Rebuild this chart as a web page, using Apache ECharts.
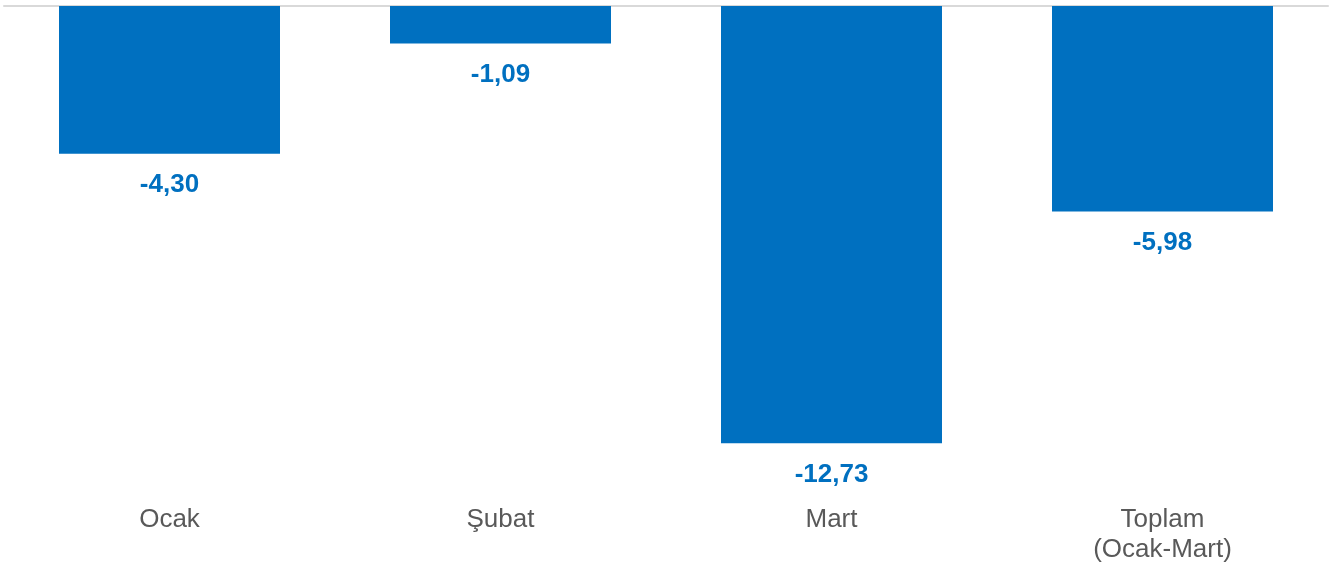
<!DOCTYPE html>
<html>
<head>
<meta charset="utf-8">
<script src="https://cdn.jsdelivr.net/npm/echarts@6/dist/echarts.min.js"></script>
<style>
html,body{margin:0;padding:0;background:#fff;}
#bar{width:1336px;height:569px;}
</style>
</head>
<body>
<div id="bar"></div>
<script>
var categories = ['Ocak', 'Şubat', 'Mart', 'Toplam\n(Ocak-Mart)'];
var values = [-4.30, -1.09, -12.73, -5.98];

var chart = echarts.init(document.getElementById('bar'));
var option = {
    animation: false,
    grid: {
        left: 4,
        right: 8,
        top: 6,
        bottom: 82
    },
    xAxis: [
        {
            // line along the top (zero)
            type: 'category',
            data: categories,
            position: 'top',
            axisLine: {show: true, lineStyle: {color: '#d9d9d9', width: 2}},
            axisTick: {show: false},
            axisLabel: {show: false}
        },
        {
            // labels under the bars
            type: 'category',
            data: categories,
            position: 'bottom',
            axisLine: {show: false},
            axisTick: {show: false},
            axisLabel: {
                color: '#595959',
                fontSize: 26,
                fontFamily: 'Liberation Sans, Arial, sans-serif',
                margin: 18,
                lineHeight: 30
            }
        }
    ],
    yAxis: {
        type: 'value',
        min: -14,
        max: 0,
        show: false,
        splitLine: {show: false}
    },
    series: [
        {
            type: 'bar',
            xAxisIndex: 0,
            data: values,
            barWidth: 221,
            itemStyle: {color: '#0070C0'},
            label: {
                show: true,
                position: 'bottom',
                distance: 18,
                color: '#0070C0',
                fontSize: 26,
                fontWeight: 'bold',
                fontFamily: 'Liberation Sans, Arial, sans-serif',
                formatter: function (p) {
                    return p.value.toFixed(2).replace('.', ',');
                }
            }
        }
    ]
};
chart.setOption(option);
</script>
</body>
</html>
